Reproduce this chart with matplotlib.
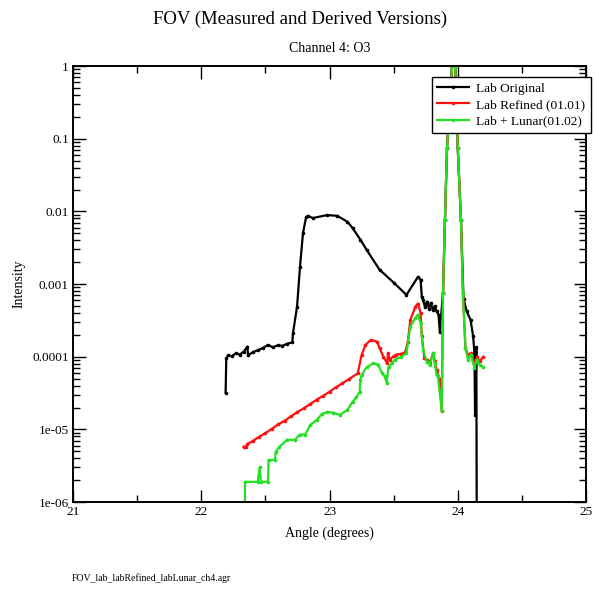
import matplotlib
matplotlib.use("Agg")
import matplotlib.pyplot as plt
from matplotlib.ticker import LogLocator, FixedLocator, FixedFormatter, MultipleLocator, NullFormatter

plt.rcParams["font.family"] = ["Liberation Serif", "DejaVu Serif"]

# -----------------------------
# data
# -----------------------------
lab_x = [22.19, 22.195, 22.21, 22.24, 22.27, 22.30, 22.33, 22.36, 22.365, 22.40,
         22.44, 22.48, 22.52, 22.56, 22.60, 22.63, 22.67, 22.71, 22.715, 22.747,
         22.77, 22.793, 22.817, 22.83, 22.87, 22.98, 23.06, 23.14, 23.18, 23.24,
         23.29, 23.39, 23.50, 23.60, 23.69, 23.71, 23.72, 23.73, 23.745, 23.76,
         23.775, 23.79, 23.805, 23.82, 23.835, 23.85, 23.86, 23.885, 23.90, 23.916,
         23.94, 23.955, 23.98, 23.99, 24.00, 24.025, 24.045, 24.07, 24.10, 24.12,
         24.13, 24.135, 24.145, 24.15]
lab_y = [3.2e-5, 9.5e-5, 1.05e-4, 1.02e-4, 1.12e-4, 1.07e-4, 1.17e-4, 1.38e-4, 1.05e-4, 1.15e-4,
         1.23e-4, 1.32e-4, 1.45e-4, 1.35e-4, 1.45e-4, 1.41e-4, 1.51e-4, 1.58e-4, 2.1e-4, 4.9e-4,
         1.74e-3, 5.0e-3, 8.3e-3, 8.7e-3, 8.1e-3, 8.9e-3, 8.7e-3, 7.2e-3, 5.9e-3, 4.1e-3,
         2.95e-3, 1.58e-3, 1.05e-3, 7.1e-4, 1.26e-3, 1.15e-3, 6.6e-4, 6.0e-4, 4.8e-4, 5.75e-4,
         4.6e-4, 5.5e-4, 4.4e-4, 5.0e-4, 4.2e-4, 3.8e-4, 2.2e-4, 7.6e-4, 7.6e-3, 0.074,
         0.34, 1.0, 1.0, 0.34, 0.074, 7.6e-3, 6.3e-4, 4.2e-4, 3.2e-4, 1.9e-4,
         1.12e-4, 1.6e-5, 1.35e-4, 1e-8]

refined_x = [22.33, 22.35, 22.36, 22.40, 22.45, 22.50, 22.55, 22.60, 22.65, 22.70,
             22.75, 22.80, 22.85, 22.90, 22.95, 23.00, 23.05, 23.10, 23.15, 23.22,
             23.25, 23.28, 23.32, 23.37, 23.39, 23.42, 23.45, 23.455, 23.47, 23.50,
             23.52, 23.56, 23.59, 23.61, 23.63, 23.67, 23.69, 23.71, 23.72, 23.74,
             23.76, 23.78, 23.81, 23.82, 23.835, 23.86, 23.875, 23.885, 23.90, 23.916,
             23.94, 23.955, 23.98, 23.99, 24.00, 24.025, 24.04, 24.06, 24.08, 24.10,
             24.13, 24.15, 24.17, 24.20]
refined_y = [5.8e-6, 5.8e-6, 6.3e-6, 6.9e-6, 7.9e-6, 8.9e-6, 1.02e-5, 1.17e-5, 1.32e-5, 1.51e-5,
             1.74e-5, 1.95e-5, 2.24e-5, 2.57e-5, 2.9e-5, 3.3e-5, 3.8e-5, 4.3e-5, 4.9e-5, 5.9e-5,
             1.05e-4, 1.45e-4, 1.7e-4, 1.62e-4, 1.32e-4, 1.0e-4, 8.1e-5, 1.12e-4, 9.1e-5, 1.02e-4,
             1.07e-4, 1.1e-4, 1.15e-4, 1.58e-4, 3.2e-4, 4.9e-4, 5.4e-4, 4.0e-4, 1.9e-4, 9.5e-5,
             8.9e-5, 8.3e-5, 1.12e-4, 8.7e-5, 6.6e-5, 4.9e-5, 1.8e-5, 7.6e-4, 7.6e-3, 0.074,
             0.34, 1.0, 1.0, 0.34, 0.074, 7.6e-3, 7.6e-4, 1.32e-4, 1.05e-4, 1.12e-4,
             8.3e-5, 1.0e-4, 8.7e-5, 1.0e-4]

lunar_x = [22.326, 22.34, 22.341, 22.44, 22.455, 22.465, 22.52, 22.525, 22.575, 22.58,
           22.61, 22.67, 22.73, 22.77, 22.81, 22.85, 22.90, 22.94, 22.98, 23.03,
           23.08, 23.14, 23.18, 23.21, 23.235, 23.24, 23.25, 23.29, 23.34, 23.38,
           23.41, 23.43, 23.445, 23.46, 23.485, 23.51, 23.56, 23.60, 23.63, 23.67,
           23.69, 23.71, 23.73, 23.76, 23.78, 23.81, 23.82, 23.835, 23.845, 23.875,
           23.885, 23.90, 23.916, 23.94, 23.955, 23.98, 23.99, 24.00, 24.025, 24.04,
           24.06, 24.08, 24.10, 24.13, 24.15, 24.17, 24.20]
lunar_y = [9e-7, 9e-7, 1.9e-6, 1.9e-6, 3.0e-6, 1.9e-6, 1.9e-6, 3.8e-6, 3.8e-6, 4.9e-6,
           5.8e-6, 7.2e-6, 7.2e-6, 8.5e-6, 8.5e-6, 1.15e-5, 1.35e-5, 1.62e-5, 1.74e-5, 1.7e-5,
           1.58e-5, 1.86e-5, 2.4e-5, 2.8e-5, 3.3e-5, 4.8e-5, 5.6e-5, 7.2e-5, 8.1e-5, 7.8e-5,
           5.9e-5, 5.4e-5, 4.4e-5, 7.2e-5, 8.1e-5, 9.1e-5, 1.0e-4, 1.12e-4, 2.6e-4, 3.4e-4,
           3.8e-4, 2.9e-4, 1.23e-4, 8.5e-5, 7.8e-5, 1.12e-4, 8.3e-5, 5.6e-5, 5.4e-5, 1.8e-5,
           7.6e-4, 7.6e-3, 0.074, 0.34, 1.0, 1.0, 0.34, 0.074, 7.6e-3, 7.6e-4,
           1.32e-4, 9.1e-5, 1.07e-4, 7.1e-5, 9.1e-5, 7.8e-5, 7.2e-5]

y_ticks = [1e-6, 1e-5, 1e-4, 1e-3, 1e-2, 1e-1, 1]
y_tick_labels = ["1e-06", "1e-05", "0.0001", "0.001", "0.01", "0.1", "1"]

# -----------------------------
# plot
# -----------------------------
fig = plt.figure(figsize=(5.95, 5.90), dpi=100)
ax = fig.add_axes([0.1227, 0.149, 0.8622, 0.739])

ax.plot(lab_x, lab_y, color="black", lw=1.6, marker="o", ms=1.6, label="Lab Original")
ax.plot(refined_x, refined_y, color="#ff1010", lw=1.6, marker="o", ms=1.6, label="Lab Refined (01.01)")
ax.plot(lunar_x, lunar_y, color="#22e022", lw=1.6, marker="o", ms=1.6, label="Lab + Lunar(01.02)")

ax.set_yscale("log")
ax.set_xlim(21, 25)
ax.set_ylim(1e-6, 1)

ax.xaxis.set_major_locator(MultipleLocator(1))
ax.xaxis.set_minor_locator(MultipleLocator(0.5))
ax.yaxis.set_major_locator(FixedLocator(y_ticks))
ax.yaxis.set_major_formatter(FixedFormatter(y_tick_labels))
ax.yaxis.set_minor_locator(LogLocator(base=10, subs=range(2, 10), numticks=20))
ax.yaxis.set_minor_formatter(NullFormatter())

ax.tick_params(which="both", direction="in", top=True, right=True, labelsize=9.5, width=1.0)
ax.tick_params(which="major", length=9, pad=3)
ax.tick_params(which="minor", length=5)
for s in ax.spines.values():
    s.set_linewidth(1.4)

ax.set_xlabel("Angle (degrees)", fontsize=10, labelpad=6)
ax.set_ylabel("Intensity", fontsize=10, labelpad=5)
ax.set_title("Channel 4: O3", fontsize=10, pad=10)
fig.text(0.505, 0.967, "FOV (Measured and Derived Versions)", fontsize=13.5, ha="center", va="center")
fig.text(0.121, 0.02, "FOV_lab_labRefined_labLunar_ch4.agr", fontsize=7, ha="left", va="center")

leg = ax.legend(loc="upper left", bbox_to_anchor=(0.70, 0.975), fontsize=9.6, fancybox=False,
                framealpha=1, edgecolor="black", borderaxespad=0, handlelength=2.4,
                labelspacing=0.3, borderpad=0.4, handletextpad=0.5)
leg.get_frame().set_linewidth(1.0)

plt.savefig("out.png", dpi=100)
plt.close()
print("Saved: out.png")
